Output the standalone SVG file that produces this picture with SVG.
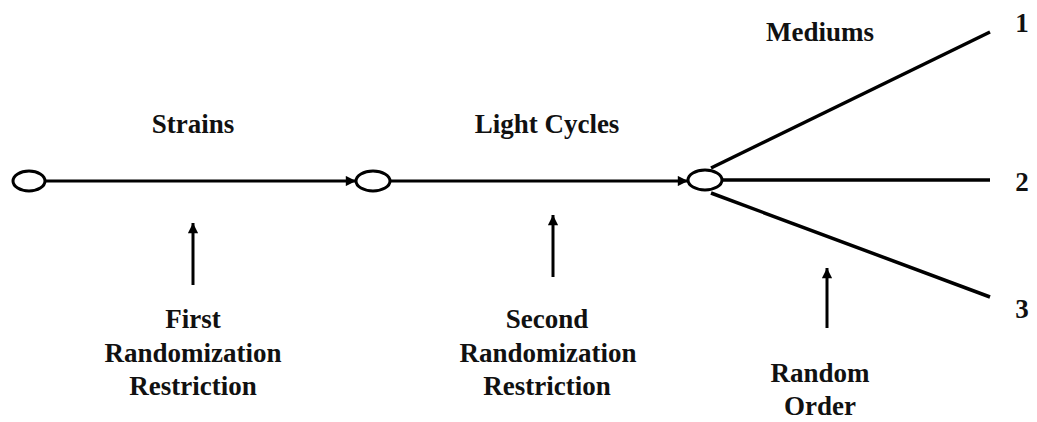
<svg xmlns="http://www.w3.org/2000/svg" width="1037" height="422" viewBox="0 0 1037 422">
  <style>
    .node { fill: #fff; stroke: #000; stroke-width: 3; }
    .edge { fill: none; stroke: #000; stroke-width: 3; }
    .branch { fill: none; stroke: #000; stroke-width: 3.5; }
    .lbl { font-family: "Liberation Serif", "Times New Roman", serif; font-weight: bold; font-size: 27px; fill: #111; text-anchor: middle; }
  </style>
  <defs>
    <marker id="head" viewBox="0 0 10 10" refX="10" refY="5" markerWidth="4" markerHeight="3.4" orient="auto" markerUnits="strokeWidth">
      <path d="M0,0 L10,5 L0,10 z" fill="#000"/>
    </marker>
  </defs>

  <rect width="1037" height="422" fill="#fff"/>

  <!-- connectors -->
  <g id="connectors">
    <line class="edge" x1="45" y1="181" x2="356" y2="181" marker-end="url(#head)"/>
    <line class="edge" x1="390" y1="181" x2="688" y2="181" marker-end="url(#head)"/>
    <line class="branch" x1="711" y1="168" x2="990" y2="32"/>
    <line class="branch" x1="722" y1="180" x2="990" y2="180"/>
    <line class="branch" x1="711" y1="193" x2="990" y2="297"/>
    <line class="edge" x1="193" y1="285" x2="193" y2="223" marker-end="url(#head)"/>
    <line class="edge" x1="553" y1="277" x2="553" y2="215" marker-end="url(#head)"/>
    <line class="edge" x1="827" y1="328" x2="827" y2="268" marker-end="url(#head)"/>
  </g>

  <!-- nodes -->
  <g id="node-start"><ellipse class="node" cx="29" cy="181" rx="16" ry="10"/></g>
  <g id="node-strains"><ellipse class="node" cx="373" cy="181" rx="17" ry="10"/></g>
  <g id="node-light"><ellipse class="node" cx="705" cy="180" rx="17" ry="10"/></g>

  <!-- labels -->
  <g id="labels">
    <text class="lbl" x="193" y="133">Strains</text>
    <text class="lbl" x="547" y="133">Light Cycles</text>
    <text class="lbl" x="820" y="41">Mediums</text>
    <text class="lbl" x="1022" y="32">1</text>
    <text class="lbl" x="1022" y="191">2</text>
    <text class="lbl" x="1022" y="318">3</text>
    <text class="lbl" x="193" y="328">First</text>
    <text class="lbl" x="193" y="362">Randomization</text>
    <text class="lbl" x="193" y="395">Restriction</text>
    <text class="lbl" x="547" y="328">Second</text>
    <text class="lbl" x="548" y="362">Randomization</text>
    <text class="lbl" x="547" y="395">Restriction</text>
    <text class="lbl" x="820" y="382">Random</text>
    <text class="lbl" x="820" y="415">Order</text>
  </g>
</svg>
